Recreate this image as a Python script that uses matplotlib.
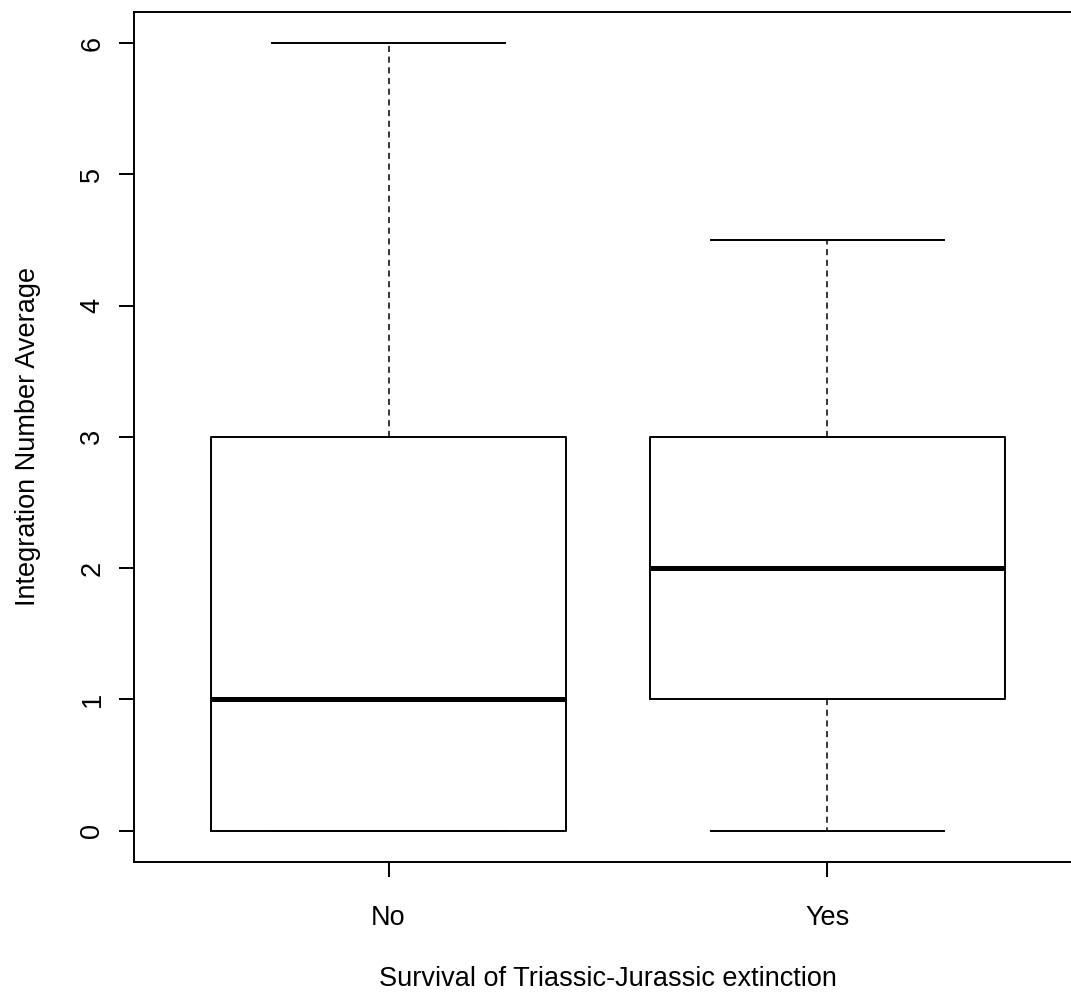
import matplotlib
matplotlib.use('Agg')
from matplotlib import pyplot as plt

plt.rcParams['font.family'] = ['Liberation Sans', 'DejaVu Sans']

groups = ['No', 'Yes']
mins = [0, 0]
q1s = [0, 1]
medians = [1, 2]
q3s = [3, 3]
maxs = [6, 4.5]

stats = []
for g, lo, a, m, b, hi in zip(groups, mins, q1s, medians, q3s, maxs):
    stats.append({'label': g, 'whislo': lo, 'q1': a, 'med': m, 'q3': b,
                  'whishi': hi, 'fliers': []})

fig = plt.figure(figsize=(10.71, 9.93), dpi=100)
# plot region runs past the right edge of the picture, as in the original
ax = fig.add_axes([134 / 1071, 131 / 993, 948 / 1071, 850.3 / 993])

ax.bxp(stats, positions=[1, 2], widths=0.808, showfliers=False,
       boxprops=dict(color='black', linewidth=1.4),
       whiskerprops=dict(color='black', linewidth=1.1, linestyle=(0, (4, 3))),
       capprops=dict(color='black', linewidth=1.4),
       medianprops=dict(color='black', linewidth=3.6, solid_capstyle='butt'),
       capwidths=0.53)

ax.set_xlim(0.42, 2.58)
ax.set_ylim(-0.24, 6.24)
ax.set_xticks([1, 2])
ax.set_xticklabels(groups)
ax.set_yticks(range(7))
ax.set_yticklabels([str(i) for i in range(7)], rotation=90, va='center')
for s in ax.spines.values():
    s.set_linewidth(1.4)
ax.tick_params(axis='both', length=11, width=1.4, labelsize=19.5)
ax.tick_params(axis='x', pad=20)
ax.tick_params(axis='y', pad=9.6)
ax.set_xlabel('Survival of Triassic-Jurassic extinction', fontsize=19.5)
ax.set_ylabel('Integration Number Average', fontsize=19.5)
ax.xaxis.set_label_coords(0.5, -0.1223)
ax.yaxis.set_label_coords(-0.0986, 0.5)

fig.savefig('out.png', dpi=100)
